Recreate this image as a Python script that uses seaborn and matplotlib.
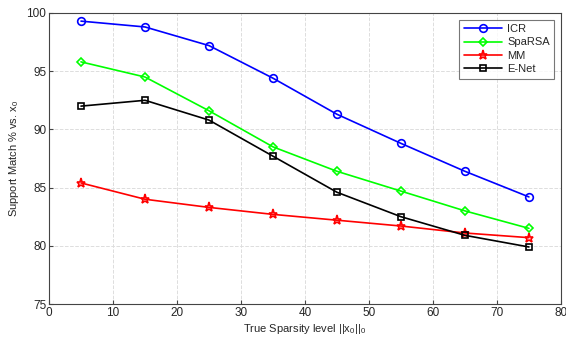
import numpy as np
import pandas as pd
import seaborn as sns
import matplotlib
matplotlib.use("Agg")
import matplotlib.pyplot as plt

# ===== data =====
sparsity = [5, 15, 25, 35, 45, 55, 65, 75]
icr = [99.3, 98.8, 97.2, 94.4, 91.3, 88.8, 86.4, 84.2]
sparsa = [95.8, 94.5, 91.6, 88.5, 86.4, 84.7, 83.0, 81.5]
mm = [85.4, 84.0, 83.3, 82.7, 82.2, 81.7, 81.1, 80.7]
enet = [92.0, 92.5, 90.8, 87.7, 84.6, 82.5, 80.9, 79.9]
methods = ['ICR', 'SpaRSA', 'MM', 'E-Net']

frames = []
for name, vals in zip(methods, [icr, sparsa, mm, enet]):
    frames.append(pd.DataFrame({'sparsity': sparsity, 'match': vals, 'method': name}))
data = pd.concat(frames, ignore_index=True)

# ===== figure =====
sns.set_style('ticks')
plt.rcParams['font.family'] = ['Liberation Sans', 'DejaVu Sans']
plt.rcParams['mathtext.fontset'] = 'custom'
plt.rcParams['mathtext.rm'] = 'Liberation Sans'

fig = plt.figure(figsize=(5.66, 3.39), dpi=100)
ax = fig.add_axes([0.0866, 0.1032, 0.9044, 0.8585])

palette = {'ICR': '#0000ff', 'SpaRSA': '#00ff00', 'MM': '#ff0000', 'E-Net': '#000000'}
markers = {'ICR': 'o', 'SpaRSA': 'D', 'MM': '*', 'E-Net': 's'}
sizes = {'ICR': 5.5, 'SpaRSA': 4.5, 'MM': 6.5, 'E-Net': 4.5}

for name in methods:
    sub = data[data['method'] == name]
    sns.lineplot(x='sparsity', y='match', data=sub, ax=ax, color=palette[name],
                 marker=markers[name], markersize=sizes[name], markerfacecolor='none',
                 markeredgecolor=palette[name], markeredgewidth=1.2, linewidth=1.2,
                 label=name)

ax.set_xlim(0, 80)
ax.set_ylim(75, 100)
ax.set_xticks(np.arange(0, 81, 10))
ax.set_yticks(np.arange(75, 101, 5))
ax.grid(True, linestyle='--', color='#dddddd', linewidth=0.7)
ax.tick_params(labelsize=8.5, direction='in', length=3, color='#444444', pad=2)
for s in ax.spines.values():
    s.set_color('#444444')
    s.set_linewidth(0.8)

ax.set_xlabel(r'True Sparsity level $\mathregular{||x_0||_0}$', fontsize=8, labelpad=2)
ax.set_ylabel(r'Support Match % vs. $\mathregular{x_0}$', fontsize=8, labelpad=4)

leg = ax.legend(loc='upper right', fontsize=8, frameon=True, fancybox=False,
                edgecolor='#555555', borderaxespad=0.6, handlelength=3.4,
                labelspacing=0.3, handletextpad=0.5)
leg.get_frame().set_linewidth(0.8)

fig.savefig('out.png', dpi=100)
